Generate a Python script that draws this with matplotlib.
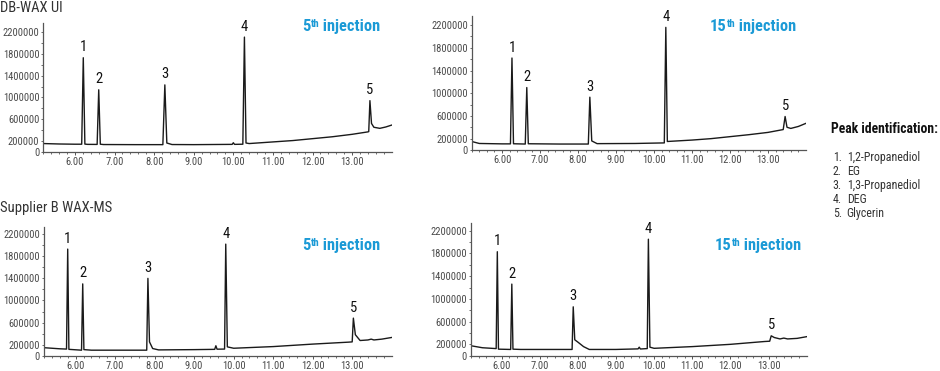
import matplotlib
matplotlib.use("Agg")
import matplotlib.pyplot as plt
from matplotlib import font_manager as fm
from matplotlib.ticker import FixedLocator, FuncFormatter

# ---------------- data ----------------
x_range = (5.2, 14.0)
x_major = [6, 7, 8, 9, 10, 11, 12, 13]
y_ticks = [0, 200000, 400000, 600000, 800000, 1000000, 1200000, 1400000,
           1600000, 1800000, 2000000, 2200000]
y_labelled = [0, 200000, 600000, 1000000, 1400000, 1800000, 2200000]

peak_names = ["1,2-Propanediol", "EG", "1,3-Propanediol", "DEG", "Glycerin"]

# DB-WAX UI, 5th injection
tl_time = [5.20, 5.60, 6.00, 6.17, 6.21, 6.25, 6.32, 6.56, 6.60, 6.64, 6.72,
           7.50, 8.22, 8.27, 8.32, 8.45, 9.00, 9.97, 10.00, 10.03, 10.24,
           10.28, 10.32, 10.40, 11.00, 11.50, 12.00, 12.50, 13.00, 13.40,
           13.42, 13.45, 13.49, 13.55, 13.70, 13.85, 14.00]
tl_signal = [150000, 142000, 138000, 138000, 1730000, 140000, 135000, 134000,
             1140000, 138000, 132000, 130000, 130000, 1230000, 160000, 132000,
             130000, 135000, 165000, 135000, 138000, 2110000, 160000, 150000,
             180000, 205000, 240000, 275000, 320000, 365000, 370000, 940000,
             520000, 450000, 430000, 455000, 490000]
tl_peak_time = [6.21, 6.60, 8.27, 10.28, 13.45]
tl_peak_height = [1730000, 1140000, 1230000, 2110000, 940000]

# DB-WAX UI, 15th injection
tr_time = [5.20, 5.40, 6.00, 6.22, 6.26, 6.30, 6.61, 6.65, 6.69, 7.50, 8.27,
           8.31, 8.36, 8.50, 9.50, 10.27, 10.31, 10.35, 11.00, 11.50, 12.00,
           12.50, 13.00, 13.40, 13.45, 13.50, 13.60, 13.80, 14.00]
tr_signal = [150000, 115000, 108000, 108000, 1620000, 110000, 105000, 1100000,
             110000, 105000, 105000, 930000, 160000, 112000, 115000, 125000,
             2160000, 150000, 175000, 200000, 235000, 270000, 310000, 360000,
             590000, 400000, 380000, 415000, 470000]
tr_peak_time = [6.26, 6.65, 8.31, 10.31, 13.45]
tr_peak_height = [1620000, 1100000, 930000, 2160000, 590000]

# Supplier B WAX-MS, 5th injection
bl_time = [5.20, 5.60, 5.77, 5.80, 5.83, 6.15, 6.18, 6.21, 6.40, 7.80, 7.83,
           7.87, 7.95, 8.10, 9.00, 9.52, 9.55, 9.58, 9.77, 9.80, 9.84, 10.00,
           11.00, 12.00, 12.90, 13.00, 13.03, 13.08, 13.20, 13.40, 13.48,
           13.55, 13.75, 14.00]
bl_signal = [145000, 125000, 120000, 1930000, 115000, 100000, 1300000, 110000,
             100000, 100000, 1400000, 250000, 130000, 105000, 110000, 115000,
             180000, 118000, 120000, 2020000, 160000, 135000, 165000, 210000,
             245000, 250000, 680000, 380000, 275000, 285000, 300000, 285000,
             300000, 330000]
bl_peak_time = [5.80, 6.18, 7.83, 9.80, 13.03]
bl_peak_height = [1930000, 1300000, 1400000, 2020000, 680000]

# Supplier B WAX-MS, 15th injection
br_time = [5.20, 5.50, 5.86, 5.89, 5.92, 6.24, 6.27, 6.30, 6.50, 7.85, 7.88,
           7.92, 8.00, 8.15, 8.30, 9.00, 9.58, 9.61, 9.64, 9.82, 9.85, 9.89,
           10.00, 11.00, 12.00, 12.90, 13.03, 13.07, 13.15, 13.30, 13.40,
           13.50, 13.75, 14.00]
br_signal = [175000, 140000, 125000, 1830000, 115000, 110000, 1260000, 115000,
             110000, 110000, 860000, 280000, 240000, 160000, 110000, 110000,
             120000, 150000, 118000, 125000, 2050000, 150000, 130000, 160000,
             200000, 250000, 255000, 350000, 320000, 295000, 310000, 295000,
             305000, 335000]
br_peak_time = [5.89, 6.27, 7.88, 9.85, 13.07]
br_peak_height = [1830000, 1260000, 860000, 2050000, 350000]

column_titles = ["DB-WAX UI", "Supplier B WAX-MS"]
injection_numbers = ["5", "15", "5", "15"]

# ---------------- fonts ----------------
names = {f.name for f in fm.fontManager.ttflist}
FONT = "Liberation Sans"
for cand in ["Roboto Condensed", "Archivo Narrow", "PT Sans Narrow",
             "Fira Sans Condensed", "Liberation Sans Narrow", "Asap Condensed"]:
    if cand in names:
        FONT = cand
        break
plt.rcParams["font.family"] = [FONT, "DejaVu Sans"]

W, H = 940, 371
DPI = 100
fig = plt.figure(figsize=(W / DPI, H / DPI), dpi=DPI)
fig.patch.set_facecolor("white")

TRACE = "#1a1a1a"
AXC = "#555555"
LBL = "#4a4a4a"
BLUE = "#1b9ad6"


def px_axes(left, right, top, bottom):
    return fig.add_axes([left / W, 1 - bottom / H, (right - left) / W,
                         (bottom - top) / H])


panels = [
    (tl_time, tl_signal, tl_peak_time, tl_peak_height, (43.3, 391.7, 22.7, 151.7), 2375000),
    (tr_time, tr_signal, tr_peak_time, tr_peak_height, (471.7, 806.0, 16.0, 150.0), 2360000),
    (bl_time, bl_signal, bl_peak_time, bl_peak_height, (44.0, 391.7, 227.0, 355.7), 2330000),
    (br_time, br_signal, br_peak_time, br_peak_height, (471.0, 806.7, 223.3, 355.7), 2330000),
]

minor_x = [round(5.2 + 0.2 * i, 2) for i in range(45)]
minor_x = [v for v in minor_x if abs(v - round(v)) > 1e-6]

for (t, s, pt, ph, box, ytop) in panels:
    ax = px_axes(*box)
    ax.plot(t, s, color=TRACE, lw=1.0, solid_joinstyle="round")
    ax.set_xlim(*x_range)
    ax.set_ylim(0, ytop)
    for side in ("top", "right"):
        ax.spines[side].set_visible(False)
    for side in ("left", "bottom"):
        ax.spines[side].set_color(AXC)
        ax.spines[side].set_linewidth(0.9)
    ax.xaxis.set_major_locator(FixedLocator(x_major))
    ax.xaxis.set_minor_locator(FixedLocator(minor_x))
    ax.xaxis.set_major_formatter(FuncFormatter(lambda v, p: f"{v:.2f}"))
    ax.yaxis.set_major_locator(FixedLocator(y_ticks))
    ax.yaxis.set_major_formatter(FuncFormatter(
        lambda v, p: f"{int(round(v))}" if int(round(v)) in y_labelled else ""))
    ax.tick_params(axis="x", which="major", length=2.0, width=0.7, color=AXC,
                   labelsize=7.6, labelcolor=LBL, pad=1.6)
    ax.tick_params(axis="x", which="minor", length=1.5, width=0.6, color=AXC)
    ax.tick_params(axis="y", which="major", length=1.6, width=0.6, color=AXC,
                   labelsize=7.6, labelcolor=LBL, pad=1.2)
    for i, (x, y) in enumerate(zip(pt, ph)):
        ax.annotate(str(i + 1), xy=(x, y), xytext=(0, 2.5),
                    textcoords="offset points", ha="center", va="bottom",
                    fontsize=10.5, color="#111111")
    ax.patch.set_alpha(0)

# column titles
fig.text(0 / W, 1 - 0.5 / H, column_titles[0], ha="left", va="top",
         fontsize=10.5, color="#333333")
fig.text(0 / W, 1 - 201 / H, column_titles[1], ha="left", va="top",
         fontsize=10.5, color="#333333")

# injection labels
inj_pos = [(302, 31), (710, 31), (302, 250), (715, 250)]
renderer = fig.canvas.get_renderer()
for num, (x, y) in zip(injection_numbers, inj_pos):
    t1 = fig.text(x / W, 1 - y / H, num, ha="left", va="baseline",
                  fontsize=11.8, fontweight="bold", color=BLUE)
    bb = t1.get_window_extent(renderer=renderer)
    t2 = fig.text((bb.x1 + 0.3) / W, (bb.y1 + 0.3) / H, "th", fontsize=7.8,
                  fontweight="bold", color=BLUE, ha="left", va="top")
    bb2 = t2.get_window_extent(renderer=renderer)
    fig.text((bb2.x1 - 0.5) / W, 1 - y / H, " injection", ha="left",
             va="baseline", fontsize=11.8, fontweight="bold", color=BLUE)

# peak identification
fig.text(831 / W, 1 - 133 / H, "Peak identification:", ha="left",
         va="baseline", fontsize=9.8, fontweight="bold", color="#111111")
for i, name in enumerate(peak_names):
    yb = 160.8 + 14.0 * i
    fig.text(832.7 / W, 1 - yb / H, f"{i + 1}.", ha="left", va="baseline",
             fontsize=8.6, color="#333333")
    fig.text(846.7 / W, 1 - yb / H, name, ha="left", va="baseline",
             fontsize=8.6, color="#333333")

fig.savefig("out.png", dpi=DPI, facecolor="white")
